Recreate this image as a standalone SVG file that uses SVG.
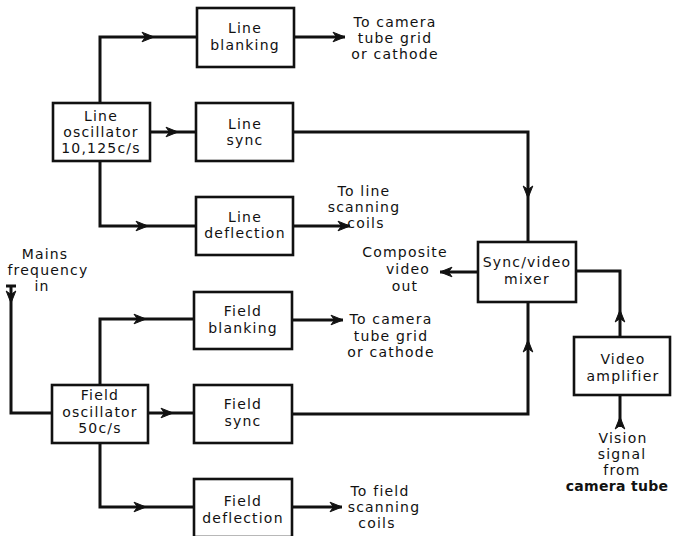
<svg xmlns="http://www.w3.org/2000/svg" xmlns:xlink="http://www.w3.org/1999/xlink" width="676" height="536" viewBox="0 0 676 536">
<style>
.box{fill:#fff;stroke:#111;stroke-width:2.6}
.ln{fill:none;stroke:#111;stroke-width:3;stroke-linejoin:miter;stroke-linecap:butt}
text{font-family:"DejaVu Sans","Liberation Sans",sans-serif;font-size:14px;fill:#111;text-anchor:middle;letter-spacing:1.2px}
</style>
<defs>
<path id="ah" d="M0,0 L-12,-4.8 L-8.5,0 L-12,4.8 Z" fill="#111" stroke="#111" stroke-width="1"/>
</defs>
<rect width="676" height="536" fill="#fff"/>
<g id="connectors">
<path class="ln" d="M100,103 V37 H197"/>
<path class="ln" d="M150,132 H196"/>
<path class="ln" d="M100,161 V226 H196"/>
<path class="ln" d="M294,37 H345"/>
<path class="ln" d="M293,132 H528 V242"/>
<path class="ln" d="M293,226 H350"/>
<path class="ln" d="M478,272 H440"/>
<path class="ln" d="M620,337 V271 H576"/>
<path class="ln" d="M620,427 V395"/>
<path class="ln" d="M292,414 H528 V302"/>
<path class="ln" d="M11,285 V413 H52"/>
<path class="ln" d="M100,385 V319 H194"/>
<path class="ln" d="M148,413 H194"/>
<path class="ln" d="M100,443 V507 H194"/>
<path class="ln" d="M292,320 H343"/>
<path class="ln" d="M292,507 H342"/>
<path class="ln" d="M6,286 H16" stroke-width="2"/>
<use xlink:href="#ah" transform="translate(154,37)"/>
<use xlink:href="#ah" transform="translate(178,132)"/>
<use xlink:href="#ah" transform="translate(148,226)"/>
<use xlink:href="#ah" transform="translate(345,37)"/>
<use xlink:href="#ah" transform="translate(528,198) rotate(90)"/>
<use xlink:href="#ah" transform="translate(350,226)"/>
<use xlink:href="#ah" transform="translate(440,272) rotate(180)"/>
<use xlink:href="#ah" transform="translate(620,310) rotate(-90)"/>
<use xlink:href="#ah" transform="translate(620,417) rotate(-90)"/>
<use xlink:href="#ah" transform="translate(528,340) rotate(-90)"/>
<use xlink:href="#ah" transform="translate(11,303) rotate(90)"/>
<use xlink:href="#ah" transform="translate(146,319)"/>
<use xlink:href="#ah" transform="translate(173,413)"/>
<use xlink:href="#ah" transform="translate(146,507)"/>
<use xlink:href="#ah" transform="translate(343,320)"/>
<use xlink:href="#ah" transform="translate(342,507)"/>
</g>
<g id="line-blanking"><rect class="box" x="197" y="8" width="97" height="59"/><text x="245" y="33">Line</text><text x="245" y="50">blanking</text></g>
<g id="line-oscillator"><rect class="box" x="53" y="103" width="97" height="58"/><text x="101" y="121">Line</text><text x="101" y="137">oscillator</text><text x="101" y="153">10,125c/s</text></g>
<g id="line-sync"><rect class="box" x="196" y="103" width="97" height="58"/><text x="245" y="129">Line</text><text x="245" y="145">sync</text></g>
<g id="line-deflection"><rect class="box" x="196" y="197" width="97" height="58"/><text x="245" y="222">Line</text><text x="245" y="238">deflection</text></g>
<g id="field-blanking"><rect class="box" x="194" y="292" width="98" height="57"/><text x="243" y="316">Field</text><text x="243" y="333">blanking</text></g>
<g id="field-oscillator"><rect class="box" x="52" y="385" width="96" height="58"/><text x="100" y="400">Field</text><text x="100" y="417">oscillator</text><text x="100" y="433">50c/s</text></g>
<g id="field-sync"><rect class="box" x="194" y="385" width="98" height="58"/><text x="243" y="409">Field</text><text x="243" y="426">sync</text></g>
<g id="field-deflection"><rect class="box" x="194" y="479" width="98" height="58"/><text x="243" y="506">Field</text><text x="243" y="523">deflection</text></g>
<g id="sync-video-mixer"><rect class="box" x="478" y="242" width="98" height="60"/><text x="527" y="267">Sync/video</text><text x="527" y="284">mixer</text></g>
<g id="video-amplifier"><rect class="box" x="574" y="337" width="96" height="58"/><text x="623" y="364">Video</text><text x="623" y="381">amplifier</text></g>
<g id="labels">
<text x="395" y="27">To camera</text><text x="395" y="43">tube grid</text><text x="395" y="59">or cathode</text>
<text x="364" y="196">To line</text><text x="364" y="212">scanning</text><text x="366" y="228">coils</text>
<text x="405" y="257">Composite</text><text x="408" y="274">video</text><text x="405" y="291">out</text>
<text x="45" y="259">Mains</text><text x="48" y="275">frequency</text><text x="42" y="291">in</text>
<text x="391" y="324">To camera</text><text x="391" y="341">tube grid</text><text x="391" y="357">or cathode</text>
<text x="380" y="496">To field</text><text x="384" y="512">scanning</text><text x="377" y="528">coils</text>
<text x="623" y="443">Vision</text><text x="622" y="459">signal</text><text x="622" y="475">from</text><text x="617" y="491" style="letter-spacing:0.3px;font-weight:bold">camera tube</text>
</g>
</svg>
